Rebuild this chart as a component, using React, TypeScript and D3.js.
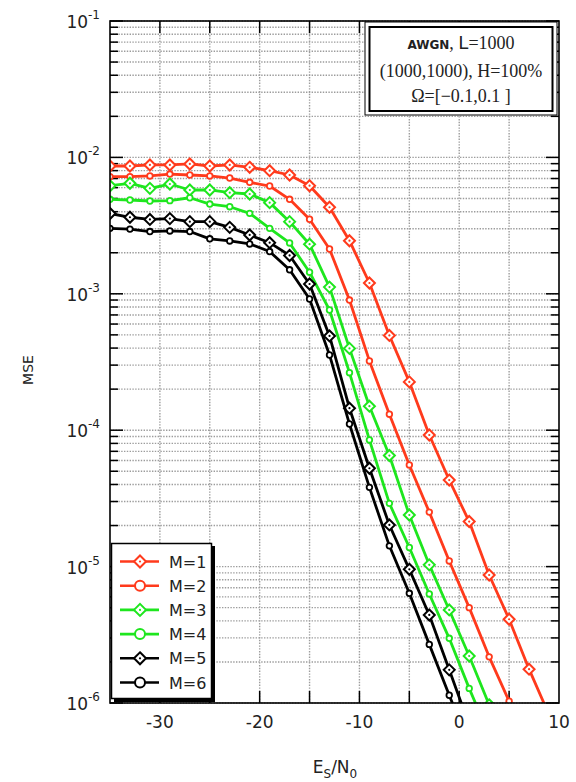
import React from "react";
import * as d3 from "d3";

// Es/N0 sample grid (dB)
const ESN0 = [-35, -33, -31, -29, -27, -25, -23, -21, -19, -17, -15, -13, -11, -9, -7, -5, -3, -1, 1, 3, 5, 7, 9];

// MSE values per series (first n points of ESN0)
const M1 = [8.65e-3, 8.65e-3, 8.8e-3, 8.8e-3, 8.95e-3, 8.65e-3, 8.8e-3, 8.46e-3, 7.99e-3, 7.43e-3, 6.2e-3, 4.31e-3, 2.45e-3, 1.2e-3, 4.95e-4, 2.26e-4, 9.22e-5, 4.31e-5, 2.14e-5, 8.68e-6, 4.11e-6, 1.77e-6, 8.2e-7];
const M2 = [7.22e-3, 7.22e-3, 7.31e-3, 7.55e-3, 7.43e-3, 7.31e-3, 7.06e-3, 6.57e-3, 6.17e-3, 4.93e-3, 3.52e-3, 2.13e-3, 9.0e-4, 3.22e-4, 1.31e-4, 5.56e-5, 2.51e-5, 1.1e-5, 5.0e-6, 2.18e-6, 1.03e-6, 4.9e-7];
const M3 = [6.2e-3, 6.46e-3, 5.93e-3, 6.38e-3, 5.77e-3, 5.77e-3, 5.51e-3, 5.39e-3, 4.66e-3, 3.38e-3, 2.31e-3, 1.12e-3, 3.98e-4, 1.5e-4, 6.52e-5, 2.39e-5, 1.03e-5, 4.81e-6, 2.21e-6, 9.7e-7];
const M4 = [4.93e-3, 4.87e-3, 4.79e-3, 4.82e-3, 5.06e-3, 4.55e-3, 4.35e-3, 3.89e-3, 3.02e-3, 2.36e-3, 1.44e-3, 7.61e-4, 2.64e-4, 8.48e-5, 2.91e-5, 1.38e-5, 6.3e-6, 2.98e-6, 1.28e-6, 5.8e-7];
const M5 = [3.88e-3, 3.64e-3, 3.51e-3, 3.56e-3, 3.38e-3, 3.38e-3, 3.07e-3, 2.7e-3, 2.37e-3, 1.91e-3, 1.18e-3, 4.91e-4, 1.45e-4, 5.26e-5, 2.02e-5, 9.55e-6, 4.42e-6, 1.75e-6, 6.9e-7];
const M6 = [3.02e-3, 2.98e-3, 2.86e-3, 2.89e-3, 2.86e-3, 2.53e-3, 2.44e-3, 2.32e-3, 2.04e-3, 1.5e-3, 9.16e-4, 3.56e-4, 1.11e-4, 3.81e-5, 1.42e-5, 6.37e-6, 2.69e-6, 1.14e-6, 4.9e-7];

const LABELS = ["M=1", "M=2", "M=3", "M=4", "M=5", "M=6"];
const MARKERS = ["diamond", "circle", "diamond", "circle", "diamond", "circle"];
const X_TICK_LABELS = [-30, -20, -10, 0, 10];
const X_GRID = [-30, -25, -20, -15, -10, -5, 0, 5];
const Y_EXPONENTS = [-6, -5, -4, -3, -2, -1];

const RED = "#ff3a1c";
const GREEN = "#1ee61e";
const BLACK = "#000000";
const COLORS = [RED, RED, GREEN, GREEN, BLACK, BLACK];

const W = 576;
const H = 782;
const L = 110, R = 559, T = 21, B = 703;

const x = d3.scaleLinear().domain([-35, 10]).range([L, R]);
const y = d3.scaleLog().domain([1e-6, 1e-1]).range([B, T]);

function Marker({ kind, cx, cy, color, big }: any) {
  if (kind === "diamond") {
    const h = big ? 6 : 5.5;
    const d = `M${cx},${cy - h}L${cx + h},${cy}L${cx},${cy + h}L${cx - h},${cy}Z`;
    return (
      <g>
        <path d={d} fill="#fff" stroke={color} strokeWidth={2} />
        <circle cx={cx} cy={cy} r={1.1} fill={color} />
      </g>
    );
  }
  return <circle cx={cx} cy={cy} r={big ? 5 : 2.8} fill="#fff" stroke={color} strokeWidth={big ? 2 : 1.8} />;
}

export default function App() {
  const series = [M1, M2, M3, M4, M5, M6];
  const line = d3
    .line<[number, number]>()
    .x((d) => x(d[0]))
    .y((d) => y(d[1]));

  const minorVals: number[] = [];
  for (let e = -6; e < -1; e++) {
    for (let k = 2; k <= 9; k++) minorVals.push(k * Math.pow(10, e));
  }
  const majorVals = Y_EXPONENTS.map((e) => Math.pow(10, e));

  const sans = "'DejaVu Sans', Verdana, sans-serif";
  const serif = "'Liberation Serif', 'Times New Roman', serif";

  return (
    <svg width={W} height={H} style={{ position: "absolute", left: 0, top: 0, background: "#fff" }} fontFamily={sans}>
      <defs>
        <clipPath id="plot">
          <rect x={L} y={T} width={R - L} height={B - T} />
        </clipPath>
      </defs>
      <rect x={0} y={0} width={W} height={H} fill="#fff" />

      {/* grid */}
      <g stroke="#9c9c9c" strokeWidth={1.4} strokeDasharray="1.4 1.4">
        {[...minorVals, ...majorVals].map((v, i) => (
          <line key={"h" + i} x1={L} x2={R} y1={y(v)} y2={y(v)} />
        ))}
        {X_GRID.map((v) => (
          <line key={"v" + v} x1={x(v)} x2={x(v)} y1={T} y2={B} />
        ))}
      </g>

      {/* ticks */}
      <g stroke="#000" strokeWidth={1.5}>
        {minorVals.map((v, i) => (
          <g key={"mt" + i}>
            <line x1={L} x2={L + 8} y1={y(v)} y2={y(v)} />
            <line x1={R} x2={R - 8} y1={y(v)} y2={y(v)} />
          </g>
        ))}
        {majorVals.map((v, i) => (
          <g key={"Mt" + i}>
            <line x1={L} x2={L + 13} y1={y(v)} y2={y(v)} />
            <line x1={R} x2={R - 13} y1={y(v)} y2={y(v)} />
          </g>
        ))}
        {X_GRID.map((v) => (
          <g key={"xt" + v}>
            <line x1={x(v)} x2={x(v)} y1={B} y2={B - 12} />
            <line x1={x(v)} x2={x(v)} y1={T} y2={T + 12} />
          </g>
        ))}
      </g>

      {/* curves */}
      <g clipPath="url(#plot)">
        {series.map((s, si) => {
          const pts = s.map((v, i) => [ESN0[i], v] as [number, number]);
          return (
            <g key={"s" + si}>
              <path d={line(pts) || ""} fill="none" stroke={COLORS[si]} strokeWidth={2.8} strokeLinejoin="round" />
              {pts.map((p, i) => (
                <Marker key={i} kind={MARKERS[si]} cx={x(p[0])} cy={y(p[1])} color={COLORS[si]} />
              ))}
            </g>
          );
        })}
      </g>

      {/* frame */}
      <rect x={L} y={T} width={R - L} height={B - T} fill="none" stroke="#000" strokeWidth={1.6} />

      {/* y tick labels */}
      {Y_EXPONENTS.map((e) => (
        <text key={"yl" + e} x={100} y={y(Math.pow(10, e)) + 7} textAnchor="end" fontSize={17} fill="#222">
          10
          <tspan dy={-9} fontSize={12}>{String(e)}</tspan>
        </text>
      ))}

      {/* x tick labels */}
      {X_TICK_LABELS.map((v) => (
        <text key={"xl" + v} x={x(v)} y={728} textAnchor="middle" fontSize={17} fill="#222">
          {String(v)}
        </text>
      ))}

      {/* axis labels */}
      <text x={335} y={773} textAnchor="middle" fontSize={17} fill="#222">
        E<tspan dy={5} fontSize={12}>S</tspan>
        <tspan dy={-5} fontSize={17}>/N</tspan>
        <tspan dy={5} fontSize={12}>0</tspan>
      </text>
      <text transform="translate(33,370) rotate(-90)" textAnchor="middle" fontSize={14} fill="#222">
        MSE
      </text>

      {/* annotation box */}
      <rect x={365} y={22} width={192} height={93} fill="#fff" stroke="#000" strokeWidth={1} />
      <rect x={369.5} y={27} width={183} height={84} fill="#fff" stroke="#000" strokeWidth={2} />
      <text x={461} y={49} textAnchor="middle" fontSize={18} fontFamily={serif} fill="#222">
        <tspan fontFamily={sans} fontWeight="bold" fontSize={12}>AWGN</tspan>
        <tspan>, </tspan>
        <tspan fontFamily={sans} fontSize={18}>L</tspan>
        <tspan>=1000</tspan>
      </text>
      <text x={461} y={77} textAnchor="middle" fontSize={18} fontFamily={serif} fill="#222">
        (1000,1000), H=100%
      </text>
      <text x={461} y={102} textAnchor="middle" fontSize={18} fontFamily={serif} fill="#222">
        Ω=[−0.1,0.1 ]
      </text>

      {/* legend */}
      <rect x={114} y={546} width={101} height={156} fill="#000" />
      <rect x={111.5} y={543.5} width={100} height={155} fill="#fff" stroke="#000" strokeWidth={1.5} />
      {LABELS.map((lab, i) => {
        const ly = 561.5 + i * 24.2;
        return (
          <g key={"lg" + i}>
            <line x1={120} x2={159} y1={ly} y2={ly} stroke={COLORS[i]} strokeWidth={2.6} />
            <Marker kind={MARKERS[i]} cx={140} cy={ly} color={COLORS[i]} big />
            <text x={169} y={ly + 6} fontSize={16} fill="#222">
              {lab}
            </text>
          </g>
        );
      })}
    </svg>
  );
}
